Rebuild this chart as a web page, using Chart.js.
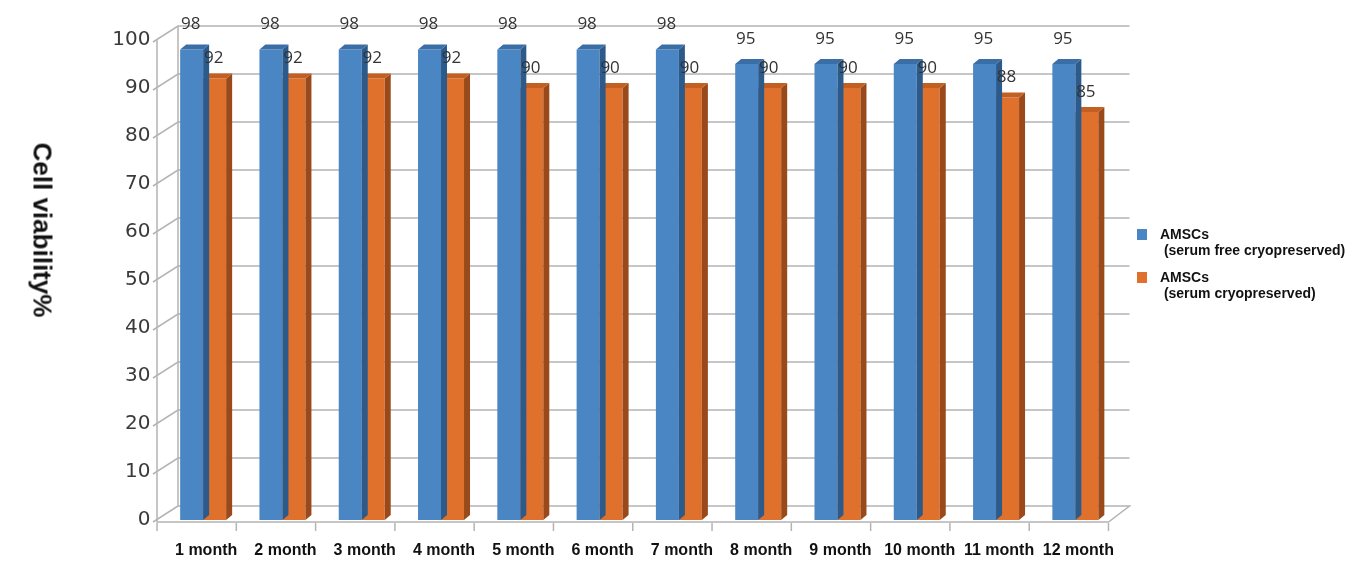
<!DOCTYPE html>
<html>
<head>
<meta charset="utf-8">
<script src="https://cdn.jsdelivr.net/npm/chart.js@4.4.1/dist/chart.umd.min.js"></script>
<style>
  html, body { margin: 0; padding: 0; background: #fff; }
  #wrap { position: relative; width: 1365px; height: 561px; }
  #ytitle {
    position: absolute; left: 42px; top: 230px;
    transform: translate(-50%, -50%) rotate(90deg);
    font: bold 26px "Liberation Sans", Arial, sans-serif;
    white-space: nowrap; color: #111;
  }
  .leg { position: absolute; left: 1137px; font: bold 14px "Liberation Sans", Arial, sans-serif; color: #111; line-height: 16px; }
  .leg i { position: absolute; left: 0; top: 3px; width: 10px; height: 11px; }
  .leg span { display: block; margin-left: 23px; white-space: pre; }
</style>
</head>
<body>
<div id="wrap">
  <canvas id="myChart" width="1365" height="561"></canvas>
  <div id="ytitle">Cell viability%</div>
</div>
<script>
let months = ["1 month", "2 month", "3 month", "4 month", "5 month", "6 month",
              "7 month", "8 month", "9 month", "10 month", "11 month", "12 month"]
let serumFree = [98, 98, 98, 98, 98, 98, 98, 95, 95, 95, 95, 95]
let serum = [92, 92, 92, 92, 90, 90, 90, 90, 90, 90, 88, 85]
let seriesNames = [["AMSCs", " (serum free cryopreserved)"], ["AMSCs", " (serum cryopreserved)"]]
let yTicks = [0, 10, 20, 30, 40, 50, 60, 70, 80, 90, 100]

let fronts = ["#4a86c4", "#e0712c"]
let tops = ["#3a6ea6", "#c45f22"]
let sides = ["#2c5a8a", "#9a4a1a"]

// legend as html, two lines per entry
seriesNames.forEach((lines, i) => {
    let d = document.createElement("div")
    d.className = "leg"
    d.style.top = (226 + i * 43) + "px"
    d.innerHTML = '<i style="background:' + fronts[i] + '"></i>'
    lines.forEach(t => {
        let s = document.createElement("span")
        s.textContent = t
        d.appendChild(s)
    })
    document.getElementById("wrap").appendChild(d)
})

const dx = 6, dy = 5        // bar depth
const shift = 6.5           // front wall is left of the bar plane
const wallX = 21, wallY = 14

let fake3d = {
    id: "fake3d",
    beforeDatasetsDraw(chart) {
        let { ctx, chartArea: a, scales: { x, y } } = chart
        let fx = a.left - shift
        let fr = a.right - shift
        let y0 = y.getPixelForValue(0)
        ctx.save()
        ctx.strokeStyle = "#b4b4b4"
        ctx.lineWidth = 1.5
        yTicks.forEach(v => {
            let py = y.getPixelForValue(v)
            ctx.beginPath()
            ctx.moveTo(fx - 4, py + 2)
            ctx.lineTo(fx + wallX, py - wallY)
            if (v > 0) ctx.lineTo(fr + wallX, py - wallY)
            ctx.stroke()
        })
        ctx.beginPath()
        ctx.moveTo(fx, y.getPixelForValue(100))
        ctx.lineTo(fx, y0 + 2)
        ctx.lineTo(fr, y0 + 2)
        ctx.lineTo(fr + wallX, y0 - wallY)
        ctx.lineTo(fx + wallX, y0 - wallY)
        ctx.moveTo(fx + wallX, y0 - wallY)
        ctx.lineTo(fx + wallX, y.getPixelForValue(100) - wallY)
        ctx.stroke()
        let cw = (fr - fx) / months.length
        for (let i = 0; i <= months.length; i++) {
            ctx.beginPath()
            ctx.moveTo(fx + i * cw, y0 + 3)
            ctx.lineTo(fx + i * cw, y0 + 11)
            ctx.stroke()
        }
        ctx.restore()
    },
    afterDatasetDraw(chart, args) {
        let { ctx } = chart
        let i = args.index
        ctx.save()
        chart.getDatasetMeta(i).data.forEach(b => {
            let l = b.x - b.width / 2, r = b.x + b.width / 2
            ctx.fillStyle = sides[i]
            ctx.beginPath()
            ctx.moveTo(r, b.y)
            ctx.lineTo(r + dx, b.y - dy)
            ctx.lineTo(r + dx, b.base - dy)
            ctx.lineTo(r, b.base)
            ctx.fill()
            ctx.fillStyle = tops[i]
            ctx.beginPath()
            ctx.moveTo(l, b.y)
            ctx.lineTo(l + dx, b.y - dy)
            ctx.lineTo(r + dx, b.y - dy)
            ctx.lineTo(r, b.y)
            ctx.fill()
        })
        ctx.restore()
    },
    afterDatasetsDraw(chart) {
        let { ctx } = chart
        ctx.save()
        ctx.font = '17px "Open Sans"'
        ctx.fillStyle = "#333"
        ctx.textAlign = "center"
        ctx.textBaseline = "middle"
        chart.data.datasets.forEach((ds, i) => {
            chart.getDatasetMeta(i).data.forEach((b, j) => {
                ctx.fillText(ds.data[j], b.x - 1, b.y - (i == 0 ? 25 : 20))
            })
        })
        ctx.restore()
    }
}

new Chart("myChart", {
    type: "bar",
    data: {
        labels: months,
        datasets: [
            { label: seriesNames[0].join(""), data: serumFree, backgroundColor: fronts[0] },
            { label: seriesNames[1].join(""), data: serum, backgroundColor: fronts[1] },
        ]
    },
    options: {
        responsive: false,
        animation: false,
        layout: { padding: { top: 40, right: 250, bottom: 0, left: 0 } },
        datasets: { bar: { categoryPercentage: 0.58, barPercentage: 1 } },
        plugins: { legend: { display: false }, tooltip: { enabled: false } },
        scales: {
            x: {
                afterFit(s) { s.height = 41 },
                grid: { display: false },
                border: { display: false },
                ticks: { color: "#111", font: { family: "Liberation Sans", size: 16, weight: "bold" }, padding: 13, labelOffset: 3, maxRotation: 0, autoSkip: false }
            },
            y: {
                min: 0, max: 100,
                afterFit(s) { s.width = 163.5 },
                afterBuildTicks(s) { s.ticks = yTicks.map(v => ({ value: v })) },
                grid: { display: false },
                border: { display: false },
                ticks: { color: "#3a3a3a", font: { family: "DejaVu Sans", size: 20 }, padding: 5 }
            }
        }
    },
    plugins: [fake3d]
})
</script>
</body>
</html>
